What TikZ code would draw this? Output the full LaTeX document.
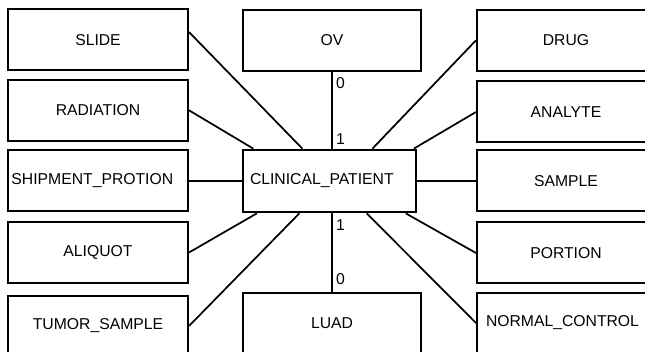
\documentclass[tikz,border=0pt]{standalone}
\usepackage{fontspec}
\setmainfont{Liberation Sans}

\begin{document}
\begin{tikzpicture}[
  x=0.75pt, y=-0.75pt,
  entity/.style={rectangle, draw, line width=1.5pt, minimum width=135pt, minimum height=45.75pt,
    inner sep=0pt, font=\fontsize{11.8}{14}\selectfont},
  leftbox/.style={entity, align=left, minimum width=0pt, inner xsep=#1},
  link/.style={line width=1.3pt},
  card/.style={anchor=west, inner sep=2.5pt, font=\fontsize{11.8}{14}\selectfont}
]
\clip (0,0) rectangle (645,352);

% Left column
\node[entity] (slide) at (98,40) {SLIDE};
\node[entity] (radiation) at (98,110.3) {RADIATION};
\node[leftbox=2.6pt, text width=129.8pt] (shipment) at (98,181) {SHIPMENT\_PROTION};
\node[entity] (aliquot) at (98,252.5) {ALIQUOT};
\node[entity] (tumor) at (98,326) {TUMOR\_SAMPLE};

% Middle column
\node[entity, minimum width=133.5pt] (ov) at (332,40.3) {OV};
\node[leftbox=5.25pt, text width=119.25pt, minimum height=47pt] (patient) at (329.5,181) {CLINICAL\_PATIENT};
\node[entity, minimum width=133.5pt] (luad) at (332,323.5) {LUAD};

% Right column
\node[entity, minimum width=133.5pt] (drug) at (566,40.3) {DRUG};
\node[entity, minimum width=133.5pt] (analyte) at (566,112) {ANALYTE};
\node[entity, minimum width=133.5pt] (sample) at (566,181) {SAMPLE};
\node[entity, minimum width=133.5pt] (portion) at (566,253) {PORTION};
\node[leftbox=6.75pt, text width=120pt, minimum height=45.75pt] (normal) at (566,323) {NORMAL\_CONTROL};

% Links to CLINICAL_PATIENT
\draw[link] (slide.5) -- (patient.130);
\draw[link] (radiation.east) -- (patient.157);
\draw[link] (shipment.east) -- (patient.west);
\draw[link] (aliquot.east) -- (patient.204);
\draw[link] (tumor.east) -- (patient.227);
\draw[link] (drug.west) -- (patient.37.5);
\draw[link] (analyte.west) -- (patient.21.5);
\draw[link] (sample.west) -- (patient.east);
\draw[link] (portion.west) -- (patient.-23);
\draw[link] (normal.west) -- (patient.-41);

% Cardinalities
\draw[link] (ov.south) -- node[card, pos=0.15] {0} node[card, pos=0.88] {1} (ov.south |- patient.north);
\draw[link] (luad.north |- patient.south) -- node[card, pos=0.15] {1} node[card, pos=0.83] {0} (luad.north);

\end{tikzpicture}
\end{document}
